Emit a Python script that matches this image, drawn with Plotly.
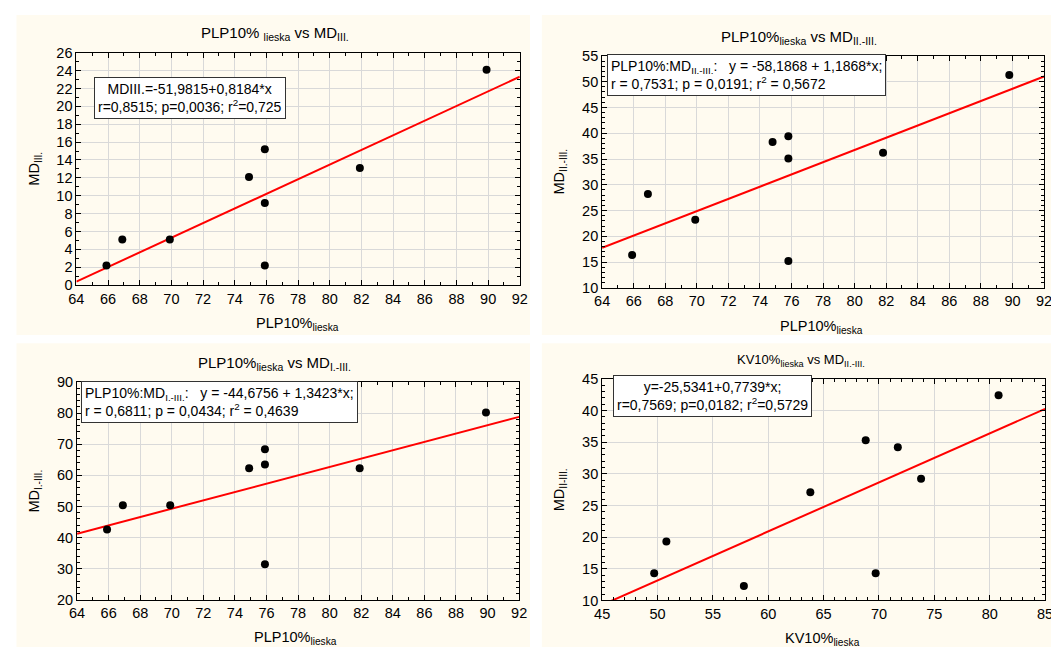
import plotly.graph_objects as go

# the page body has an 8px margin; the figure starts at (8, 8) and runs to the window's edge
OFF = 8
W, H = 1059 - OFF, 655 - OFF

# ---- data ----
plp_x = [65.9, 66.9, 69.9, 74.9, 75.9, 75.9, 75.9, 81.9, 89.9]
md_III = [2.2, 5.1, 5.1, 12.1, 15.2, 9.2, 2.2, 13.1, 24.1]

plp_x2 = [65.9, 66.9, 69.9, 74.8, 75.8, 75.8, 75.8, 81.8, 89.8]
md_II_III = [16.4, 28.2, 23.2, 38.3, 39.4, 35.1, 15.2, 36.2, 51.3]

plp_x3 = [65.9, 66.9, 69.9, 74.9, 75.9, 75.9, 75.9, 81.9, 89.9]
md_I_III = [42.6, 50.4, 50.4, 62.3, 68.4, 63.5, 31.4, 62.3, 80.2]

kv_x = [49.7, 50.8, 57.8, 63.8, 68.8, 69.7, 71.7, 73.8, 80.8]
md_II_III_kv = [14.3, 19.3, 12.3, 27.1, 35.3, 14.3, 34.2, 29.2, 42.4]

# regression coefficients (intercept, slope) as printed in the boxes
coef1 = (-51.9815, 0.8184)
coef2 = (-58.1868, 1.1868)
coef3 = (-44.6756, 1.3423)
coef4 = (-25.5341, 0.7739)

FONT = "Liberation Sans, Arial, sans-serif"
CREAM = "#fffbf0"

panels = [
    dict(cream=(8.5, 7, 530, 335), plot=(69.3, 45.6, 519.6, 284.0),
         x=plp_x, y=md_III, coef=coef1, xr=(64, 92), yr=(0, 26),
         xd=2, xm=1, yd=2, ym=1,
         title="PLP10% <sub>lieska</sub> vs MD<sub>III.</sub>", tsize=15, tpos=(271, 25.5),
         xlab="PLP10%<sub>lieska</sub>", xlpos=(294, 324), ylab="MD<sub>III.</sub>", ylx=27,
         box="MDIII.=-51,9815+0,8184*x<br>r=0,8515; p=0,0036; r<sup>2</sup>=0,725",
         bpos=(87, 71), balign="center"),
    dict(cream=(542, 7, 1059, 335), plot=(603.2, 48.9, 1051.9, 286.8),
         x=plp_x2, y=md_II_III, coef=coef2, xr=(64, 92), yr=(10, 55),
         xd=2, xm=1, yd=5, ym=1,
         title="PLP10%<sub>lieska</sub> vs MD<sub>II.-III.</sub>", tsize=15, tpos=(803, 30),
         xlab="PLP10%<sub>lieska</sub>", xlpos=(826, 327), ylab="MD<sub>II.-III.</sub>", ylx=560,
         box="PLP10%:MD<sub>II.-III.</sub>:   y = -58,1868 + 1,1868*x;<br>r = 0,7531; p = 0,0191; r<sup>2</sup> = 0,5672",
         bpos=(608, 46.5), balign="left"),
    dict(cream=(8.5, 343.5, 530, 655), plot=(70, 383.4, 518.9, 606.5),
         x=plp_x3, y=md_I_III, coef=coef3, xr=(64, 92), yr=(20, 90),
         xd=2, xm=1, yd=10, ym=2,
         title="PLP10%<sub>lieska</sub> vs MD<sub>I.-III.</sub>", tsize=15, tpos=(270.5, 364),
         xlab="PLP10%<sub>lieska</sub>", xlpos=(292, 646), ylab="MD<sub>I.-III.</sub>", ylx=27,
         box="PLP10%:MD<sub>I.-III.</sub>:   y = -44,6756 + 1,3423*x;<br>r = 0,6811; p = 0,0434; r<sup>2</sup> = 0,4639",
         bpos=(73.5, 382.5), balign="left"),
    dict(cream=(542, 343.5, 1059, 655), plot=(603.2, 380, 1053, 607.3),
         x=kv_x, y=md_II_III_kv, coef=coef4, xr=(45, 85), yr=(10, 45),
         xd=5, xm=1, yd=5, ym=1,
         title="KV10%<sub>lieska</sub> vs MD<sub>II.-III.</sub>", tsize=13, tpos=(805, 361),
         xlab="KV10%<sub>lieska</sub>", xlpos=(827, 647), ylab="MD<sub>II-III.</sub>", ylx=560,
         box="y=-25,5341+0,7739*x;<br>r=0,7569; p=0,0182; r<sup>2</sup>=0,5729",
         bpos=(614, 376.5), balign="center"),
]

def fx(px):
    return (px - OFF) / W

def fy(py):
    return 1 - (py - OFF) / H

fig = go.Figure()
shapes = []
annotations = []
layout = {}

for i, p in enumerate(panels, start=1):
    sx = "" if i == 1 else str(i)
    xa, ya = "x" + sx, "y" + sx
    x0, y0, x1, y1 = p["cream"]
    shapes.append(dict(type="rect", xref="paper", yref="paper", layer="below",
                       x0=fx(x0), x1=fx(x1), y0=fy(y1), y1=fy(y0),
                       fillcolor=CREAM, line=dict(width=0)))
    px0, py0, px1, py1 = p["plot"]
    common = dict(showline=True, linecolor="black", linewidth=1, mirror="allticks",
                  ticks="inside", ticklen=5, tickcolor="black",
                  showgrid=True, gridcolor="#d9d9d9", gridwidth=1, zeroline=False,
                  tickfont=dict(family=FONT, size=14.5, color="black"))
    layout["xaxis" + sx] = dict(common, domain=[fx(px0), fx(px1)], anchor=ya,
                                range=list(p["xr"]), dtick=p["xd"], tick0=0,
                                minor=dict(ticks="inside", ticklen=3, dtick=p["xm"],
                                           tickcolor="black", showgrid=False))
    layout["yaxis" + sx] = dict(common, domain=[fy(py1), fy(py0)], anchor=xa,
                                range=list(p["yr"]), dtick=p["yd"], tick0=0,
                                minor=dict(ticks="inside", ticklen=3, dtick=p["ym"],
                                           tickcolor="black", showgrid=False))
    # regression line over axis range
    b0, b1 = p["coef"]
    lx = list(p["xr"])
    ly = [b0 + b1 * v for v in lx]
    fig.add_trace(go.Scatter(x=lx, y=ly, mode="lines", xaxis=xa, yaxis=ya,
                             line=dict(color="#ff0000", width=2), showlegend=False,
                             cliponaxis=True))
    fig.add_trace(go.Scatter(x=p["x"], y=p["y"], mode="markers", xaxis=xa, yaxis=ya,
                             marker=dict(color="black", size=8), showlegend=False))
    # title
    annotations.append(dict(text=p["title"], xref="paper", yref="paper",
                            x=fx(p["tpos"][0]), y=fy(p["tpos"][1]),
                            xanchor="center", yanchor="middle", showarrow=False,
                            font=dict(family=FONT, size=p["tsize"], color="black")))
    # axis labels
    annotations.append(dict(text=p["xlab"], xref="paper", yref="paper",
                            x=fx(p["xlpos"][0]), y=fy(p["xlpos"][1]),
                            xanchor="center", yanchor="middle", showarrow=False,
                            font=dict(family=FONT, size=14.5, color="black")))
    annotations.append(dict(text=p["ylab"], xref="paper", yref="paper",
                            x=fx(p["ylx"]), y=fy((py0 + py1) / 2), textangle=-90,
                            xanchor="center", yanchor="middle", showarrow=False,
                            font=dict(family=FONT, size=14.5, color="black")))
    # equation box
    annotations.append(dict(text=p["box"], xref="paper", yref="paper",
                            x=fx(p["bpos"][0]), y=fy(p["bpos"][1]),
                            xanchor="left", yanchor="top", showarrow=False,
                            align=p["balign"], bgcolor="white",
                            bordercolor="#333333", borderwidth=1, borderpad=3,
                            font=dict(family=FONT, size=14, color="black")))

fig.update_layout(**layout)
fig.update_layout(width=W, height=H, margin=dict(l=0, r=0, t=0, b=0),
                  paper_bgcolor="white", plot_bgcolor="white",
                  shapes=shapes, annotations=annotations, showlegend=False)

fig.write_html("out.html")
